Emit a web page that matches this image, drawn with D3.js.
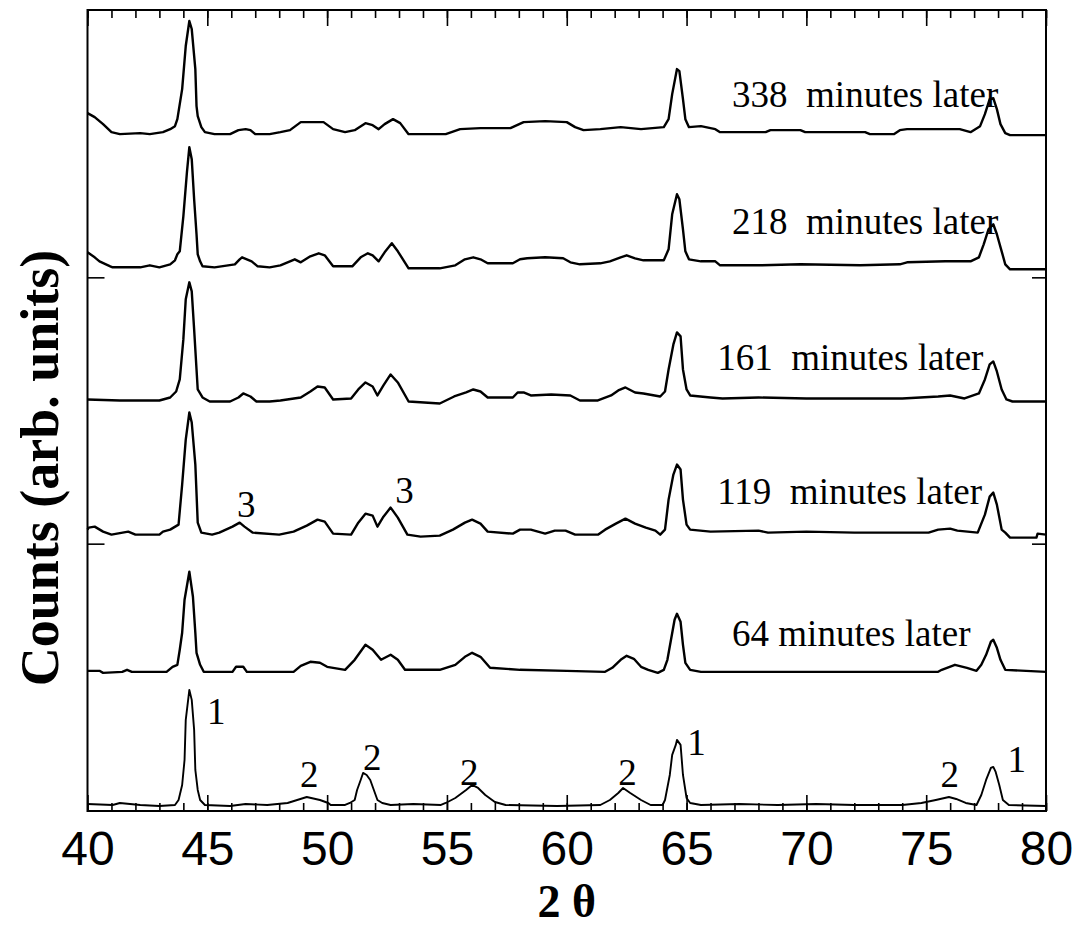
<!DOCTYPE html>
<html>
<head>
<meta charset="utf-8">
<script src="https://cdn.jsdelivr.net/npm/d3@7"></script>
<style>
  body { margin: 0; background: #fff; }
  svg { display: block; }
</style>
</head>
<body>
<div id="chart"></div>
<script>
// XRD scans, [2theta, counts above the scan's own baseline]
const scan0 = [
  [40.0, 2], [41.05, 1], [41.35, 3], [42.2, 1], [43.0, 0], [43.65, 1], [43.8, 6], [43.95, 21],
  [44.05, 46], [44.1, 86], [44.25, 116], [44.35, 106], [44.45, 76], [44.5, 36], [44.6, 16], [44.7, 6],
  [44.9, 1], [45.95, 0], [46.6, 2], [47.5, 1], [48.35, 3], [48.75, 6], [49.15, 9], [49.7, 6],
  [50.05, 3], [50.15, 1], [50.75, 1], [50.95, 3], [51.15, 6], [51.25, 16], [51.4, 26], [51.5, 33],
  [51.65, 31], [51.8, 26], [51.95, 16], [52.1, 6], [52.3, 3], [52.65, 1], [53.6, 2], [54.75, 1],
  [54.95, 3], [55.35, 8], [55.8, 16], [56.05, 21], [56.3, 18], [56.6, 11], [57.0, 4], [57.45, 1],
  [59.6, 0], [61.4, 1], [61.8, 6], [62.15, 13], [62.35, 18], [62.65, 13], [63.1, 6], [63.5, 1],
  [64.0, 1], [64.1, 6], [64.3, 31], [64.4, 51], [64.55, 61], [64.6, 66], [64.75, 61], [64.85, 31],
  [65.0, 8], [65.15, 3], [65.6, 1], [67.2, 2], [68.8, 1], [70.4, 2], [72.0, 1], [74.0, 1],
  [74.8, 3], [75.4, 6], [75.95, 9], [76.25, 7], [76.65, 3], [77.1, 1], [77.3, 11], [77.5, 26],
  [77.7, 38], [77.8, 39], [77.9, 34], [78.05, 21], [78.2, 6], [78.45, 1], [80.0, 0]
]
const scan64 = [
  [40.0, 1], [40.5, 1], [40.65, -1], [41.45, 0], [41.65, 2], [41.85, 0], [43.3, 0], [43.55, 5],
  [43.75, 7], [43.85, 22], [43.95, 39], [44.05, 72], [44.25, 100], [44.4, 75], [44.5, 39], [44.55, 19],
  [44.7, 7], [44.85, 0], [46.05, 0], [46.2, 5], [46.5, 5], [46.65, 0], [48.6, 0], [48.9, 6],
  [49.3, 10], [49.7, 9], [50.0, 5], [50.75, 2], [51.15, 12], [51.6, 27], [51.9, 22], [52.25, 12],
  [52.65, 17], [52.95, 12], [53.25, 2], [54.7, 2], [55.35, 7], [55.75, 15], [56.05, 19], [56.4, 15],
  [56.8, 4], [58.05, 2], [60.0, 1], [61.6, 0], [61.9, 4], [62.25, 12], [62.5, 16], [62.8, 13],
  [63.1, 5], [63.4, 2], [63.8, -1], [64.05, 2], [64.2, 12], [64.35, 32], [64.5, 52], [64.6, 58],
  [64.75, 50], [64.85, 27], [64.95, 9], [65.15, 2], [65.6, 0], [68.1, 0], [75.5, 0], [75.65, 2],
  [76.2, 7], [76.7, 4], [77.1, 1], [77.3, 7], [77.5, 17], [77.7, 30], [77.8, 32], [77.95, 24],
  [78.1, 12], [78.3, 2], [80.0, 0]
]
const scan119 = [
  [40.0, 5], [40.05, 7], [40.3, 8], [40.65, 3], [41.0, 0], [41.7, 3], [42.0, 0], [43.0, 0],
  [43.15, 3], [43.45, 5], [43.8, 10], [43.95, 50], [44.1, 95], [44.25, 122], [44.35, 112], [44.5, 70],
  [44.6, 12], [44.75, 2], [45.2, 0], [45.5, 2], [46.05, 8], [46.35, 12], [46.55, 8], [46.9, 2],
  [48.0, 0], [48.6, 3], [49.15, 9], [49.6, 15], [49.9, 13], [50.25, 1], [51.0, 0], [51.3, 12],
  [51.6, 21], [51.9, 19], [52.1, 8], [52.35, 18], [52.65, 27], [52.95, 17], [53.35, 0], [53.9, -2],
  [54.7, -1], [55.25, 5], [55.75, 12], [56.05, 15], [56.4, 11], [56.7, 3], [57.75, 1], [58.05, 5],
  [58.5, 5], [59.1, 1], [59.5, 4], [59.95, 4], [60.35, 0], [61.3, 0], [61.6, 5], [62.05, 11],
  [62.45, 16], [62.85, 11], [63.3, 7], [63.7, 4], [63.9, 0], [64.1, 5], [64.25, 35], [64.45, 60],
  [64.6, 70], [64.75, 65], [64.85, 35], [65.0, 10], [65.15, 5], [66.0, 3], [68.0, 4], [68.4, 2],
  [70.0, 3], [72.0, 2], [74.0, 2], [75.1, 2], [75.5, 5], [76.0, 6], [76.3, 4], [77.15, 2],
  [77.45, 20], [77.65, 38], [77.8, 42], [77.95, 30], [78.15, 5], [78.3, 2], [78.5, -3], [79.6, -3],
  [79.65, 1], [80.0, 0]
]
const scan161 = [
  [40.0, 2], [41.35, 1], [43.0, 1], [43.45, 4], [43.7, 10], [43.85, 22], [44.0, 62], [44.1, 102],
  [44.25, 119], [44.35, 110], [44.45, 72], [44.55, 32], [44.6, 12], [44.8, 4], [45.1, 0], [45.95, 0],
  [46.3, 4], [46.5, 8], [46.8, 5], [47.05, 0], [47.6, 0], [48.05, 1], [48.9, 4], [49.3, 10],
  [49.6, 15], [49.9, 14], [50.25, 2], [51.0, 3], [51.3, 12], [51.6, 19], [51.9, 15], [52.1, 6],
  [52.35, 16], [52.65, 27], [52.95, 19], [53.4, 0], [54.7, -2], [55.3, 5], [55.8, 9], [56.1, 12],
  [56.4, 10], [56.7, 4], [57.75, 4], [57.95, 9], [58.2, 9], [58.5, 6], [59.35, 7], [60.15, 6],
  [60.55, 1], [61.3, 1], [61.85, 6], [62.15, 11], [62.45, 14], [62.85, 9], [63.2, 8], [63.9, 5],
  [64.1, 10], [64.25, 32], [64.45, 57], [64.6, 69], [64.75, 65], [64.85, 32], [65.0, 12], [65.15, 6],
  [66.0, 4], [66.5, 3], [68.0, 4], [70.0, 3], [72.0, 3], [74.0, 3], [75.5, 5], [76.0, 6],
  [76.6, 3], [77.2, 8], [77.45, 22], [77.65, 37], [77.8, 40], [77.95, 30], [78.15, 12], [78.35, 2],
  [78.6, 0], [80.0, 0]
]
const scan218 = [
  [40.0, 15], [40.3, 10], [40.5, 6], [40.95, 1], [41.05, 0], [42.2, 0], [42.6, 2], [43.0, 0],
  [43.45, 3], [43.65, 7], [43.75, 13], [43.85, 16], [44.0, 51], [44.15, 95], [44.25, 120], [44.35, 108],
  [44.45, 68], [44.55, 33], [44.6, 13], [44.7, 6], [44.8, 1], [45.3, 0], [46.15, 3], [46.35, 8],
  [46.45, 10], [46.85, 6], [47.1, 1], [47.6, 0], [48.05, 2], [48.45, 6], [48.65, 8], [48.9, 5],
  [49.3, 11], [49.65, 14], [49.9, 12], [50.25, 1], [51.05, 1], [51.4, 10], [51.7, 14], [51.9, 12],
  [52.15, 6], [52.4, 15], [52.7, 24], [52.95, 16], [53.4, -1], [54.7, -1], [55.35, 2], [55.75, 8],
  [56.1, 10], [56.4, 8], [56.7, 4], [57.75, 4], [58.05, 8], [58.35, 9], [59.1, 10], [59.85, 9],
  [60.15, 5], [60.55, 3], [61.4, 4], [61.8, 6], [62.25, 10], [62.5, 12], [62.85, 9], [63.2, 7],
  [64.05, 7], [64.25, 18], [64.4, 53], [64.6, 73], [64.7, 68], [64.85, 38], [64.95, 16], [65.1, 8],
  [65.6, 6], [66.2, 6], [66.4, 2], [68.1, 2], [69.75, 3], [72.25, 2], [73.9, 3], [74.2, 5],
  [75.8, 6], [76.85, 6], [77.2, 10], [77.4, 23], [77.6, 38], [77.8, 43], [77.95, 33], [78.15, 16],
  [78.3, 3], [78.5, -2], [80.0, -2]
]
const scan338 = [
  [40.0, 21], [40.3, 17], [40.65, 10], [41.0, 2], [41.35, 0], [42.2, 1], [42.6, 0], [43.15, 2],
  [43.45, 5], [43.65, 8], [43.75, 15], [43.95, 45], [44.1, 88], [44.25, 113], [44.35, 105], [44.5, 65],
  [44.55, 28], [44.6, 18], [44.75, 7], [44.9, 2], [45.3, 0], [45.95, 0], [46.3, 4], [46.6, 5],
  [46.8, 4], [47.0, 0], [47.6, 0], [48.05, 2], [48.45, 4], [48.9, 12], [49.85, 12], [50.25, 5],
  [50.75, 2], [51.15, 4], [51.6, 11], [51.9, 9], [52.15, 5], [52.4, 10], [52.75, 15], [53.05, 11],
  [53.4, 0], [54.95, 0], [55.55, 5], [56.4, 6], [57.65, 6], [58.2, 12], [59.1, 13], [60.0, 12],
  [60.35, 7], [60.7, 4], [61.4, 5], [62.25, 7], [63.1, 5], [64.05, 7], [64.25, 15], [64.4, 40],
  [64.6, 65], [64.7, 63], [64.85, 35], [64.95, 15], [65.1, 7], [65.6, 8], [66.2, 5], [66.4, 2],
  [68.3, 2], [68.5, 4], [69.75, 4], [69.95, 2], [72.45, 2], [72.65, 0], [73.65, 0], [73.9, 4],
  [74.2, 5], [76.4, 5], [76.85, 2], [77.25, 8], [77.45, 20], [77.65, 35], [77.8, 36], [77.95, 25],
  [78.1, 10], [78.3, 1], [78.5, -1], [80.0, -1]
]

const scans = [scan0, scan64, scan119, scan161, scan218, scan338]
// vertical offset of each scan in the stack
const offsets = [5, 139, 276, 409, 543, 676]

// [text, 2theta, counts] for the time annotations
const timeLabels = [
  ['338  minutes later', 66.9, 703],
  ['218  minutes later', 66.9, 576],
  ['161  minutes later', 66.28, 440],
  ['119  minutes later', 66.28, 307],
  ['64 minutes later', 66.9, 165]
]
// peak index labels
const peakLabels = [
  ['1', 44.99, 87], ['2', 48.87, 24], ['2', 51.5, 41], ['2', 55.55, 26],
  ['2', 62.15, 26], ['1', 65.03, 56], ['2', 75.6, 24], ['1', 78.39, 39],
  ['3', 46.24, 294], ['3', 52.84, 308]
]

const xMajor = [40, 45, 50, 55, 60, 65, 70, 75, 80]
const xMinor = d3.range(40, 81, 1)
const yTicks = [267, 533]

const width = 1078
const height = 930
const plot = { left: 87.5, right: 1046, top: 10, bottom: 811 }
const serif = "'Liberation Serif', 'Times New Roman', serif"

const x = d3.scaleLinear().domain([40, 80]).range([plot.left, plot.right])
const y = d3.scaleLinear().domain([0, 800]).range([plot.bottom, plot.top])

const svg = d3.select('#chart').append('svg')
  .attr('width', width)
  .attr('height', height)

// frame
svg.append('rect')
  .attr('x', plot.left)
  .attr('y', plot.top)
  .attr('width', plot.right - plot.left)
  .attr('height', plot.bottom - plot.top)
  .attr('fill', 'none')
  .attr('stroke', '#000')
  .attr('stroke-width', 2)

function tickStyle (g) {
  g.select('.domain').remove()
  g.selectAll('.tick line').attr('stroke', '#000').attr('stroke-width', 1.6)
}

// bottom axis, ticks pointing inwards
svg.append('g')
  .attr('transform', `translate(0,${plot.bottom})`)
  .call(d3.axisBottom(x).tickValues(xMinor).tickSize(-8).tickFormat(''))
  .call(tickStyle)
svg.append('g')
  .attr('transform', `translate(0,${plot.bottom})`)
  .call(d3.axisBottom(x).tickValues(xMajor).tickSize(-16).tickPadding(20).tickFormat(d3.format('d')))
  .call(tickStyle)
  .call(g => g.selectAll('text')
    .attr('fill', '#000')
    .style('font-family', "'Liberation Sans', Arial, sans-serif")
    .style('font-size', '48px'))

// top axis
svg.append('g')
  .attr('transform', `translate(0,${plot.top})`)
  .call(d3.axisTop(x).tickValues(xMinor).tickSize(-8).tickFormat(''))
  .call(tickStyle)
svg.append('g')
  .attr('transform', `translate(0,${plot.top})`)
  .call(d3.axisTop(x).tickValues(xMajor).tickSize(-16).tickFormat(''))
  .call(tickStyle)

// left / right ticks
svg.append('g')
  .attr('transform', `translate(${plot.left},0)`)
  .call(d3.axisLeft(y).tickValues(yTicks).tickSize(-17).tickFormat(''))
  .call(tickStyle)
svg.append('g')
  .attr('transform', `translate(${plot.right},0)`)
  .call(d3.axisRight(y).tickValues(yTicks).tickSize(-14).tickFormat(''))
  .call(tickStyle)

// scans
const contents = svg.append('g').attr('class', 'contents')
scans.forEach((scan, i) => {
  const line = d3.line()
    .x(d => x(d[0]))
    .y(d => y(d[1] + offsets[i]))
  contents.append('path')
    .datum(scan)
    .attr('d', line)
    .attr('fill', 'none')
    .attr('stroke', '#000')
    .attr('stroke-width', i === 0 ? 1.9 : 2.4)
    .attr('stroke-linejoin', 'round')
})

// annotations
svg.append('g').selectAll('text')
  .data(timeLabels)
  .join('text')
  .attr('x', d => x(d[1]))
  .attr('y', d => y(d[2]))
  .text(d => d[0])
  .style('white-space', 'pre')
  .style('font-family', serif)
  .style('font-size', '37px')

svg.append('g').selectAll('text')
  .data(peakLabels)
  .join('text')
  .attr('x', d => x(d[1]))
  .attr('y', d => y(d[2]))
  .text(d => d[0])
  .style('font-family', serif)
  .style('font-size', '37px')

// axis titles
svg.append('text')
  .attr('x', (plot.left + plot.right) / 2)
  .attr('y', 917)
  .attr('text-anchor', 'middle')
  .style('font-family', serif)
  .style('font-weight', 'bold')
  .style('font-size', '46px')
  .text('2 θ')

svg.append('text')
  .attr('transform', 'translate(58,468) rotate(-90)')
  .attr('text-anchor', 'middle')
  .style('font-family', serif)
  .style('font-weight', 'bold')
  .style('font-size', '54px')
  .text('Counts (arb. units)')
</script>
</body>
</html>
